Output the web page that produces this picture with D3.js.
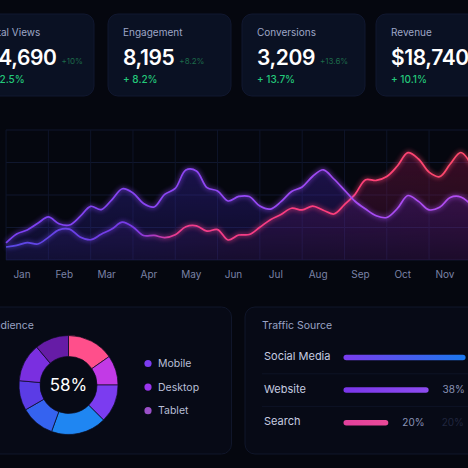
<!DOCTYPE html>
<html>
<head>
<meta charset="utf-8">
<script src="https://cdn.jsdelivr.net/npm/d3@7"></script>
<style>
html, body { margin: 0; padding: 0; background: #05070f; }
svg { display: block; font-family: Inter, "Noto Sans", sans-serif; }
</style>
</head>
<body>
<svg id="dash" width="468" height="468"></svg>
<script>
// KPI cards
var kpiNames = ["Total Views", "Engagement", "Conversions", "Revenue"];
var kpiValues = ["24,690", "8,195", "3,209", "$18,740"];
var kpiChange = ["+ 12.5%", "+ 8.2%", "+ 13.7%", "+ 10.1%"];
var kpiGhost = ["+10%", "+8.2%", "+13.6%", ""];

// traffic chart, one point every quarter month starting a bit before Jan
var months = ["Jan", "Feb", "Mar", "Apr", "May", "Jun", "Jul", "Aug", "Sep", "Oct", "Nov", "Dec"];
var startMonth = -0.365;
var stepMonth = 0.25;
var seriesA = [13.1, 20.0, 23.1, 28.2, 33.1, 27.9, 26.9, 33.5, 41.3, 38.8,
               46.3, 54.8, 51.6, 43.5, 40.8, 50.5, 55.1, 69.2, 68.5, 55.7,
               53.1, 45.4, 48.9, 48.8, 41.5, 39.2, 44.9, 52.7, 56.2, 64.4,
               69.4, 62.3, 53.8, 45.2, 39.2, 34.1, 32.7, 39.6, 49.6, 45.1,
               38.6, 40.5, 48.1, 48.5, 42.3];
var seriesB = [10.0, 11.2, 13.4, 12.3, 17.4, 23.2, 23.8, 17.7, 15.6, 19.8,
               23.8, 29.1, 25.4, 18.8, 18.9, 17.2, 19.4, 25.6, 26.3, 22.2,
               23.4, 15.4, 19.2, 19.6, 25.2, 31.0, 35.0, 39.8, 38.5, 41.5,
               38.3, 35.4, 42.6, 50.5, 61.8, 61.2, 64.2, 72.3, 82.6, 77.7,
               67.6, 64.1, 73.8, 82.7, 73.1];
var gridValues = [0, 25, 50, 75, 100];

// audience donut (degrees of each segment) and legend
var donutParts = [55, 35, 45, 65, 40, 35, 45, 40];
var donutColors = ["#ff4f8b", "#c23ae6", "#7b3cf0", "#1f86f2", "#3563f0", "#5b3ce6", "#7a2fe0", "#661ca6"];
var donutLabel = "58%";
var devices = ["Mobile", "Desktop", "Tablet"];
var deviceColors = ["#7c3cf0", "#9a35ee", "#9a50c8"];

// traffic sources
var sources = ["Social Media", "Website", "Search"];
var sourceShares = [54.5, 38, 20];

var svg = d3.select("#dash");
var defs = svg.append("defs");

svg.append("rect").attr("width", 468).attr("height", 468).attr("fill", "#05070f");

// ---- KPI cards (first one runs off the left edge, last off the right)
var card = svg.selectAll("g.kpi").data(kpiNames).enter().append("g")
    .attr("class", "kpi")
    .attr("transform", function (d, i) { return "translate(" + (i == 0 ? -29 : -26 + i * 134) + ",14)"; });

card.append("rect").attr("width", 123).attr("height", 82).attr("rx", 10)
    .attr("fill", "#0a1123").attr("stroke", "#111830").attr("stroke-width", 1);
card.append("text").attr("x", 15).attr("y", 22).text(function (d) { return d; })
    .attr("fill", "#9ea6c6").attr("font-size", 10);
var valText = card.append("text").attr("x", 15).attr("y", 51)
    .text(function (d, i) { return kpiValues[i]; })
    .attr("fill", "#ffffff").attr("font-size", 21).attr("font-weight", 600).attr("letter-spacing", -0.4);
card.append("text").attr("x", 15).attr("y", 68.5)
    .text(function (d, i) { return kpiChange[i]; })
    .attr("fill", "#23c87a").attr("font-size", 10).attr("font-weight", 500);
card.append("text")
    .attr("x", function (d, i) { return 15 + valText.nodes()[i].getComputedTextLength() + 5; })
    .attr("y", 49.5)
    .text(function (d, i) { return kpiGhost[i]; })
    .attr("fill", "#1d6a4a").attr("font-size", 8);

// ---- area chart
var x = d3.scaleLinear().domain([0, 11]).range([21.5, 21.5 + 42.3 * 11]);
var y = d3.scaleLinear().domain([0, 100]).range([260, 130]);
var t = seriesA.map(function (d, i) { return startMonth + i * stepMonth; });

var grid = svg.append("g");
grid.selectAll("line.h").data(gridValues).enter().append("line")
    .attr("x1", 6).attr("x2", 468)
    .attr("y1", function (d) { return y(d); }).attr("y2", function (d) { return y(d); })
    .attr("stroke", "#10172e");
grid.selectAll("line.v").data(d3.range(12)).enter().append("line")
    .attr("x1", function (d) { return x(d + startMonth); }).attr("x2", function (d) { return x(d + startMonth); })
    .attr("y1", y(100)).attr("y2", y(0))
    .attr("stroke", "#0e1429");

function hGrad(id, stops) {
    var g = defs.append("linearGradient").attr("id", id)
        .attr("gradientUnits", "userSpaceOnUse").attr("x1", 6).attr("x2", 468).attr("y1", 0).attr("y2", 0);
    stops.forEach(function (s) {
        g.append("stop").attr("offset", s[0]).attr("stop-color", s[1]).attr("stop-opacity", s[2] == null ? 1 : s[2]);
    });
}
hGrad("fillA", [[0, "#3c32c8", 0.4], [0.6, "#4a2ac8", 0.38], [1, "#6e28dc", 0.32]]);
hGrad("fillB", [[0, "#5032c8", 0.35], [0.32, "#6a2ab4", 0.35], [0.5, "#8a1e78", 0.35], [1, "#a01950", 0.36]]);
hGrad("lineA", [[0, "#7a40f2"], [0.5, "#9448f5"], [1, "#b44ef2"]]);
hGrad("lineB", [[0, "#5a48e6"], [0.28, "#7a3ae8"], [0.37, "#f03c8c"], [0.7, "#ff3d7c"], [1, "#ff4a6a"]]);

var fade = defs.append("linearGradient").attr("id", "fade")
    .attr("gradientUnits", "userSpaceOnUse").attr("x1", 0).attr("x2", 0).attr("y1", 140).attr("y2", 262);
fade.append("stop").attr("offset", 0).attr("stop-color", "#fff");
fade.append("stop").attr("offset", 1).attr("stop-color", "#555");
defs.append("mask").attr("id", "fadeMask").append("rect")
    .attr("x", 0).attr("y", 100).attr("width", 468).attr("height", 170).attr("fill", "url(#fade)");

var glow = defs.append("filter").attr("id", "glow").attr("x", "-5%").attr("y", "-20%").attr("width", "110%").attr("height", "140%");
glow.append("feGaussianBlur").attr("stdDeviation", 2);

var curve = d3.curveCatmullRom.alpha(0.5);
var area = d3.area().x(function (d, i) { return x(t[i]); }).y0(y(0)).y1(function (d) { return y(d); }).curve(curve);
var line = d3.line().x(function (d, i) { return x(t[i]); }).y(function (d) { return y(d); }).curve(curve);

var areas = svg.append("g").attr("mask", "url(#fadeMask)");
areas.append("path").attr("d", area(seriesB)).attr("fill", "url(#fillB)");
areas.append("path").attr("d", area(seriesA)).attr("fill", "url(#fillA)");

[["lineB", seriesB], ["lineA", seriesA]].forEach(function (s) {
    svg.append("path").attr("d", line(s[1])).attr("fill", "none")
        .attr("stroke", "url(#" + s[0] + ")").attr("stroke-width", 4).attr("opacity", 0.45).attr("filter", "url(#glow)");
    svg.append("path").attr("d", line(s[1])).attr("fill", "none")
        .attr("stroke", "url(#" + s[0] + ")").attr("stroke-width", 1.7);
});

var xAxis = svg.append("g").attr("transform", "translate(0,271)")
    .call(d3.axisBottom(x).tickValues(d3.range(12)).tickSize(0).tickPadding(0)
        .tickFormat(function (d) { return months[d]; }));
xAxis.select(".domain").remove();
xAxis.selectAll("text").attr("fill", "#7a82a6").attr("font-size", 10).attr("font-family", "Inter, sans-serif");

// ---- audience card
svg.append("rect").attr("x", -30).attr("y", 307).attr("width", 261.5).attr("height", 147).attr("rx", 10)
    .attr("fill", "#070a16").attr("stroke", "#10162a");
svg.append("text").attr("x", -13).attr("y", 329).text("Audience")
    .attr("fill", "#9aa3c4").attr("font-size", 10.5);

var pie = d3.pie().sort(null).value(function (d) { return d; });
var arc = d3.arc().innerRadius(28.5).outerRadius(49.5);
var donut = svg.append("g").attr("transform", "translate(68.5,385)");
donut.selectAll("path").data(pie(donutParts)).enter().append("path")
    .attr("d", arc)
    .attr("fill", function (d, i) { return donutColors[i]; })
    .attr("stroke", "#0b0c1e").attr("stroke-width", 0.7);
donut.append("text").attr("text-anchor", "middle").attr("dy", "0.36em")
    .text(donutLabel).attr("fill", "#ffffff").attr("font-size", 17);

var legend = svg.selectAll("g.leg").data(devices).enter().append("g")
    .attr("class", "leg")
    .attr("transform", function (d, i) { return "translate(148," + (363.5 + i * 23.6) + ")"; });
legend.append("circle").attr("r", 3.6).attr("fill", function (d, i) { return deviceColors[i]; });
legend.append("text").attr("x", 10).attr("dy", "0.36em").text(function (d) { return d; })
    .attr("fill", "#b8bfd6").attr("font-size", 10.5);

// ---- traffic source card
svg.append("rect").attr("x", 245).attr("y", 307).attr("width", 250).attr("height", 147).attr("rx", 10)
    .attr("fill", "#070a16").attr("stroke", "#10162a");
svg.append("text").attr("x", 262).attr("y", 329).text("Traffic Source")
    .attr("fill", "#9aa3c4").attr("font-size", 10.5);

defs.append("linearGradient").attr("id", "bar0").call(function (g) {
    g.append("stop").attr("offset", 0).attr("stop-color", "#7a3cee");
    g.append("stop").attr("offset", 1).attr("stop-color", "#1a78ee");
});
defs.append("linearGradient").attr("id", "bar1").call(function (g) {
    g.append("stop").attr("offset", 0).attr("stop-color", "#7a36ea");
    g.append("stop").attr("offset", 1).attr("stop-color", "#8d4cf0");
});
defs.append("linearGradient").attr("id", "bar2").call(function (g) {
    g.append("stop").attr("offset", 0).attr("stop-color", "#e2409c");
    g.append("stop").attr("offset", 1).attr("stop-color", "#ea4a98");
});

var bx = d3.scaleLinear().domain([0, 100]).range([343.5, 343.5 + 224]);
var rowY = d3.scalePoint().domain(sources).range([357.5, 422.7]);

svg.selectAll("line.sep").data([0.5, 1.5]).enter().append("line")
    .attr("x1", 262).attr("x2", 468)
    .attr("y1", function (d) { return 357.5 + d * 32.6; }).attr("y2", function (d) { return 357.5 + d * 32.6; })
    .attr("stroke", "#0e1326");

var row = svg.selectAll("g.src").data(sources).enter().append("g")
    .attr("class", "src")
    .attr("transform", function (d) { return "translate(0," + rowY(d) + ")"; });
row.append("text").attr("x", 264).attr("y", 2.5).text(function (d) { return d; })
    .attr("fill", "#c6cce0").attr("font-size", 11);
row.append("rect").attr("x", bx(0)).attr("y", -2.75).attr("height", 5.5).attr("rx", 2.75)
    .attr("width", function (d, i) { return bx(sourceShares[i]) - bx(0); })
    .attr("fill", function (d, i) { return "url(#bar" + i + ")"; });
row.append("text").attr("x", function (d, i) { return bx(sourceShares[i]) + 14; }).attr("y", 3)
    .text(function (d, i) { return Math.round(sourceShares[i]) + "%"; })
    .attr("fill", "#8a93b6").attr("font-size", 10);
// faint echo label on the search row
svg.append("text").attr("x", 441.7).attr("y", rowY("Search") + 3).text("20%")
    .attr("fill", "#20263f").attr("font-size", 10);
</script>
</body>
</html>
